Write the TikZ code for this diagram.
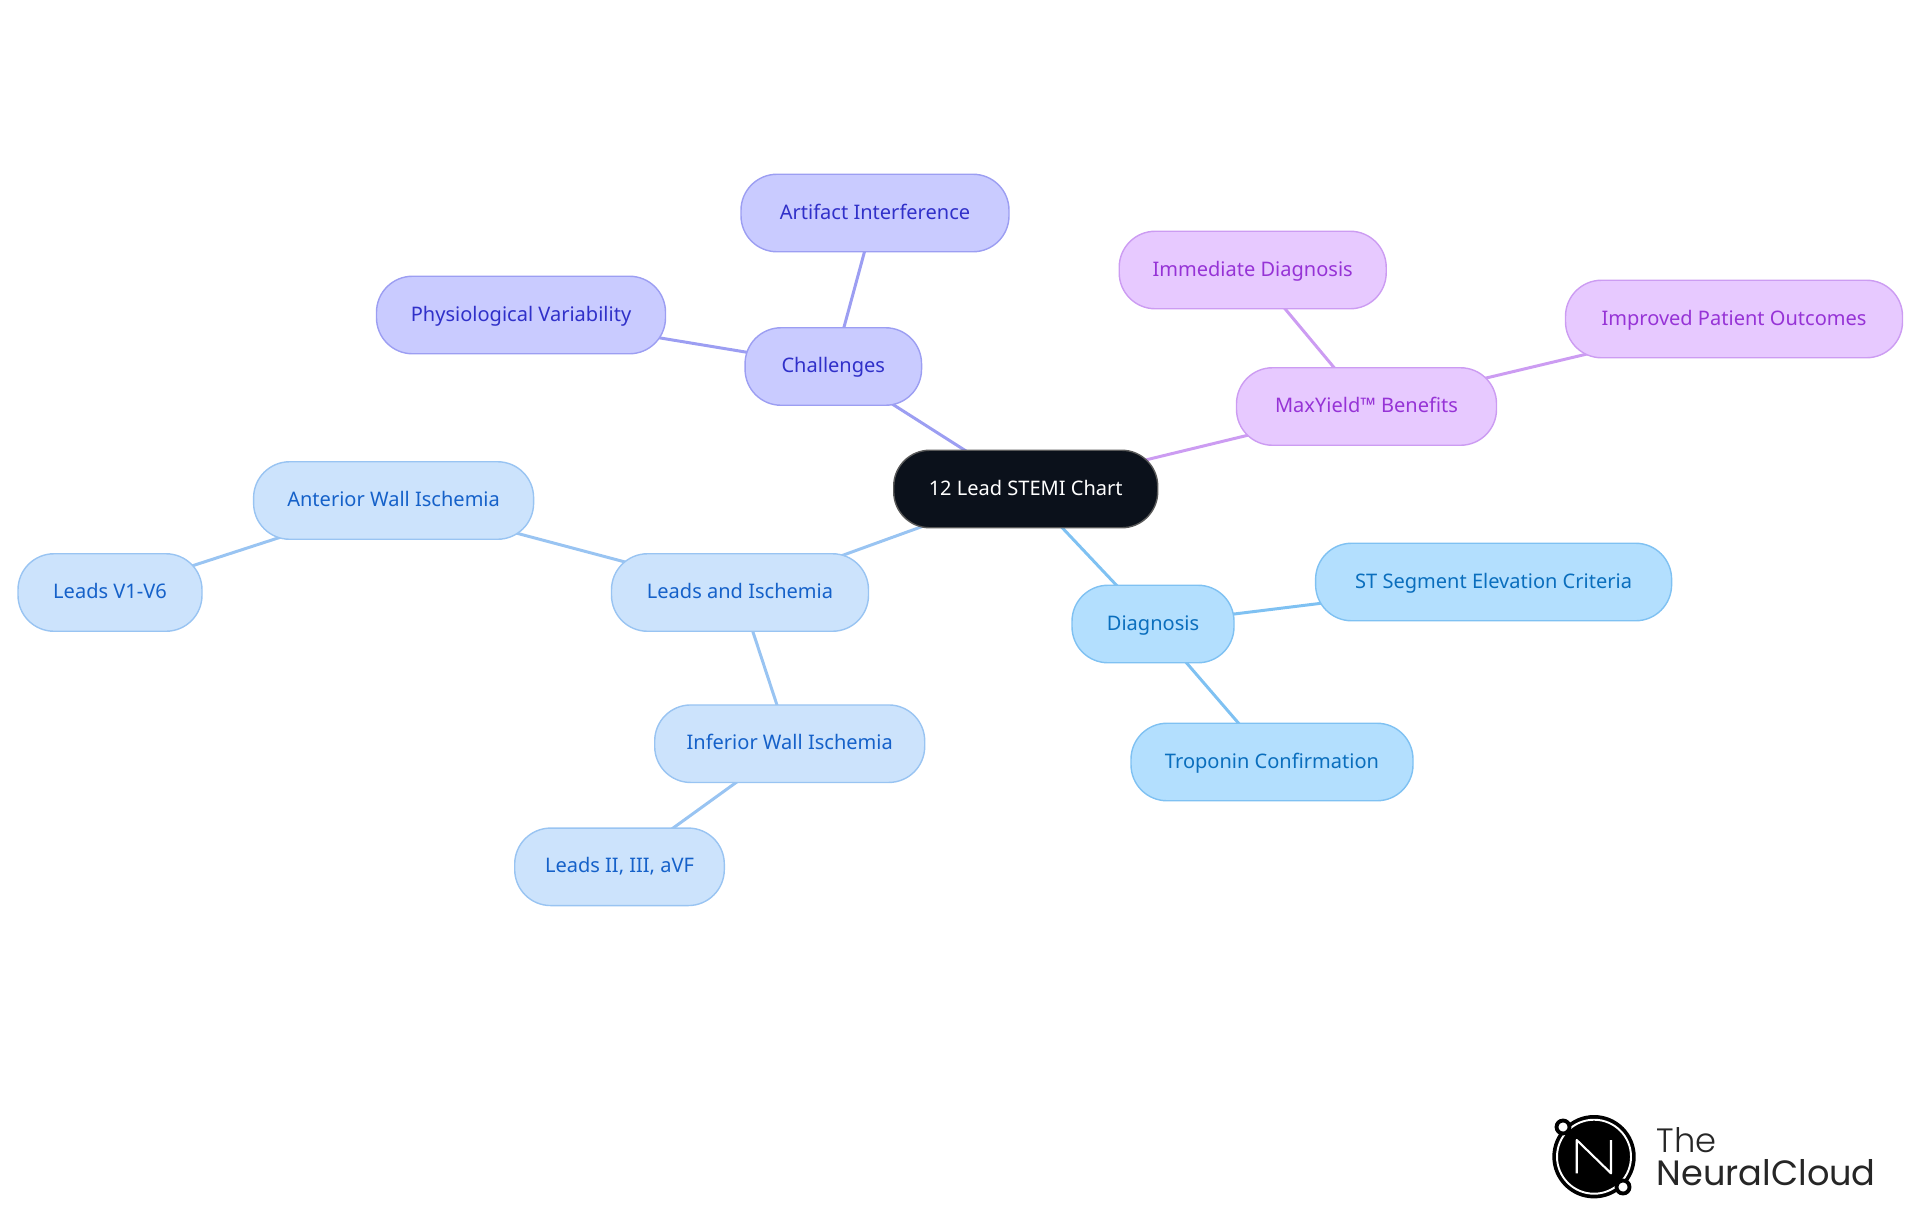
\documentclass[tikz,border=0pt]{standalone}
\usepackage{fontspec}
\usepackage{xcolor}
\usepackage{tikz}
\usetikzlibrary{backgrounds}
\setmainfont{Noto Sans}
\newfontfamily\logofont{Poppins Light}
\newfontfamily\logobold{Poppins}
\definecolor{rootfill}{HTML}{0B111B}
\definecolor{diagfill}{HTML}{B3DFFE}
\definecolor{diagline}{HTML}{7FC1F2}
\definecolor{diagtext}{HTML}{0A6EBD}
\definecolor{leadfill}{HTML}{CCE3FC}
\definecolor{leadline}{HTML}{99C4F2}
\definecolor{leadtext}{HTML}{1561C9}
\definecolor{chalfill}{HTML}{C9CBFF}
\definecolor{challine}{HTML}{9C9EF2}
\definecolor{chaltext}{HTML}{3030C9}
\definecolor{maxyfill}{HTML}{E7C9FF}
\definecolor{maxyline}{HTML}{CC9CF2}
\definecolor{maxytext}{HTML}{9633D6}
\tikzset{
  MapBox/.style={
    rectangle, rounded corners=3.6mm,
    minimum height=7.75mm,
    inner sep=0pt, line width=0.4pt,
    text height=1.7mm, text depth=0.5mm,
    font=\fontsize{5.7}{7}\selectfont,
  },
  RootBox/.style={MapBox, draw=black!65, fill=rootfill, text=white},
  DiagBox/.style={MapBox, draw=diagline, fill=diagfill, text=diagtext},
  LeadBox/.style={MapBox, draw=leadline, fill=leadfill, text=leadtext},
  ChalBox/.style={MapBox, draw=challine, fill=chalfill, text=chaltext},
  MaxyBox/.style={MapBox, draw=maxyline, fill=maxyfill, text=maxytext},
  MapEdge/.style={line width=0.85pt},
}
\begin{document}
\begin{tikzpicture}
\useasboundingbox (0,0) rectangle (19.2,-12.15);
\node[RootBox, minimum width=26.4mm] (ROOT) at (10.257,-4.89) {12 Lead STEMI Chart};
% challenges
\node[ChalBox, minimum width=17.65mm] (CHAL) at (8.333,-3.665) {Challenges};
\node[ChalBox, minimum width=26.8mm] (ARTI) at (8.75,-2.13) {Artifact Interference};
\node[ChalBox, minimum width=28.9mm] (PHYS) at (5.21,-3.15) {Physiological Variability};
% benefits
\node[MaxyBox, minimum width=26mm] (MAXY) at (13.665,-4.065) {MaxYield™ Benefits};
\node[MaxyBox, minimum width=26.7mm] (IMME) at (12.527,-2.70) {Immediate Diagnosis};
\node[MaxyBox, minimum width=33.7mm] (IMPR) at (17.34,-3.19) {Improved Patient Outcomes};
% leads
\node[LeadBox, minimum width=25.7mm] (LEAD) at (7.40,-5.925) {Leads and Ischemia};
\node[LeadBox, minimum width=28mm] (ANTE) at (3.936,-5.005) {Anterior Wall Ischemia};
\node[LeadBox, minimum width=18.4mm] (VSIX) at (1.10,-5.925) {Leads V1-V6};
\node[LeadBox, minimum width=27mm] (INFE) at (7.897,-7.437) {Inferior Wall Ischemia};
\node[LeadBox, minimum width=20.96mm] (AVF) at (6.195,-8.668) {Leads II, III, aVF};
% diagnosis
\node[DiagBox, minimum width=16.2mm] (DIAG) at (11.53,-6.24) {Diagnosis};
\node[DiagBox, minimum width=35.6mm] (STSE) at (14.936,-5.82) {ST Segment Elevation Criteria};
\node[DiagBox, minimum width=28.2mm] (TROP) at (12.72,-7.62) {Troponin Confirmation};
\begin{scope}[on background layer]
\draw[MapEdge, draw=challine] (ROOT.center) to (CHAL.center);
\draw[MapEdge, draw=challine] (CHAL.center) to (ARTI.center);
\draw[MapEdge, draw=challine] (CHAL.center) to (PHYS.center);
\draw[MapEdge, draw=maxyline] (ROOT.center) to (MAXY.center);
\draw[MapEdge, draw=maxyline] (MAXY.center) to (IMME.center);
\draw[MapEdge, draw=maxyline] (MAXY.center) to (IMPR.center);
\draw[MapEdge, draw=leadline] (ROOT.center) to (LEAD.center);
\draw[MapEdge, draw=leadline] (LEAD.center) to (ANTE.center);
\draw[MapEdge, draw=leadline] (ANTE.center) to (VSIX.center);
\draw[MapEdge, draw=leadline] (LEAD.center) to (INFE.center);
\draw[MapEdge, draw=leadline] (INFE.center) to (AVF.center);
\draw[MapEdge, draw=diagline] (ROOT.center) to (DIAG.center);
\draw[MapEdge, draw=diagline] (DIAG.center) to (STSE.center);
\draw[MapEdge, draw=diagline] (DIAG.center) to (TROP.center);
\end{scope}
% logo
\fill[black] (15.94,-11.567) circle (0.417);
\draw[white, line width=0.55pt] (15.94,-11.567) circle (0.37);
\draw[white, line width=0.6pt, line join=round] (15.767,-11.733) -- (15.767,-11.40) -- (16.11,-11.733) -- (16.11,-11.40);
\draw[black, fill=white, line width=1.1pt] (15.63,-11.27) circle (0.065);
\draw[black, fill=white, line width=1.1pt] (16.23,-11.87) circle (0.065);
\node[anchor=base west, inner sep=0pt, text=black!85, font=\logofont\fontsize{9.6}{10}\selectfont] (THE) at (16.56,-11.52) {The};
\node[anchor=base west, inner sep=0pt, text=black!85, font=\logobold\fontsize{10}{10}\selectfont] (CLOUD) at (16.56,-11.85) {NeuralCloud};
\end{tikzpicture}
\end{document}
